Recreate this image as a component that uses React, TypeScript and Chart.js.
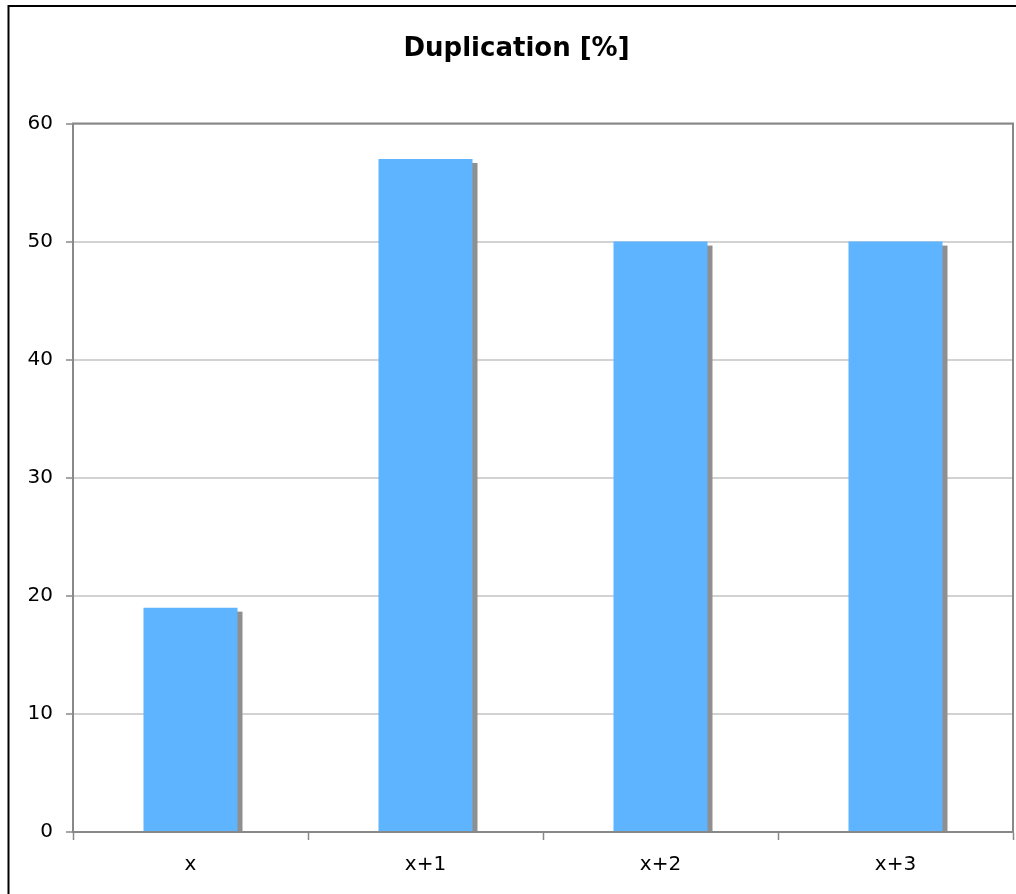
import React, { useEffect, useRef } from "react";
import { Chart, registerables } from "chart.js";

Chart.register(...registerables);

const categories = ["x", "x+1", "x+2", "x+3"];
const duplication = [19, 57, 50, 50];
const yTicks = [0, 10, 20, 30, 40, 50, 60];
const chartTitle = "Duplication [%]";

const FONT = "'DejaVu Sans', Verdana, sans-serif";

// Grey drop shadow offset to the lower right of each bar
const barShadow = {
  id: "barShadow",
  beforeDatasetsDraw(chart: any) {
    const { ctx } = chart;
    const meta = chart.getDatasetMeta(0);
    ctx.save();
    ctx.fillStyle = "#8f8f8f";
    meta.data.forEach((bar: any) => {
      const { x, y, base, width } = bar.getProps(["x", "y", "base", "width"], true);
      ctx.fillRect(x - width / 2 + 5, y + 4, width, base - y - 4);
    });
    ctx.restore();
  },
};

// Plot-area outline (top/right) and the outer black frame
const frames = {
  id: "frames",
  afterDraw(chart: any) {
    const { ctx, chartArea: a } = chart;
    ctx.save();
    ctx.strokeStyle = "#888888";
    ctx.lineWidth = 2;
    ctx.beginPath();
    ctx.moveTo(a.left - 1, a.top);
    ctx.lineTo(a.right, a.top);
    ctx.lineTo(a.right, a.bottom);
    ctx.stroke();
    ctx.strokeStyle = "#000000";
    ctx.beginPath();
    ctx.moveTo(8.5, chart.height + 10);
    ctx.lineTo(8.5, 6);
    ctx.lineTo(chart.width + 10, 6);
    ctx.stroke();
    ctx.restore();
  },
};

export default function App() {
  const canvasRef = useRef<HTMLCanvasElement | null>(null);

  useEffect(() => {
    const canvas = canvasRef.current;
    if (!canvas) return;
    const chart = new Chart(canvas, {
      type: "bar",
      data: {
        labels: categories,
        datasets: [
          {
            data: duplication,
            backgroundColor: "#5fb4ff",
            borderWidth: 0,
            categoryPercentage: 1,
            barPercentage: 0.4,
          },
        ],
      },
      options: {
        responsive: true,
        maintainAspectRatio: false,
        animation: false,
        layout: { padding: { left: 20, right: 3, top: 0, bottom: 0 } },
        plugins: {
          legend: { display: false },
          tooltip: { enabled: false },
          title: {
            display: true,
            text: chartTitle,
            color: "#000000",
            font: { family: FONT, size: 26, weight: "bold" },
            padding: { top: 34, bottom: 58.3 },
          },
        },
        scales: {
          x: {
            afterFit: (s: any) => {
              s.height = 62;
            },
            border: { display: true, color: "#888888", width: 2 },
            grid: {
              display: true,
              drawOnChartArea: false,
              drawTicks: true,
              tickLength: 8,
              tickColor: "#888888",
              tickWidth: 1.5,
              offset: true,
            },
            ticks: {
              color: "#000000",
              font: { family: FONT, size: 20 },
              padding: 13,
            },
          },
          y: {
            min: 0,
            max: 60,
            afterFit: (s: any) => {
              s.width = 53;
            },
            afterBuildTicks: (s: any) => {
              s.ticks = yTicks.map((v) => ({ value: v }));
            },
            border: { display: true, color: "#888888", width: 2 },
            grid: {
              color: "#d2d2d2",
              lineWidth: 2,
              drawTicks: true,
              tickLength: 7,
              tickColor: "#888888",
              tickWidth: 1.5,
            },
            ticks: {
              color: "#000000",
              font: { family: FONT, size: 20 },
              padding: 13,
            },
          },
        },
      },
      plugins: [barShadow, frames],
    });
    return () => chart.destroy();
  }, []);

  return (
    <div
      style={{
        position: "fixed",
        left: 0,
        top: 0,
        width: 1016,
        height: 894,
        background: "#ffffff",
      }}
    >
      <canvas ref={canvasRef} />
    </div>
  );
}
